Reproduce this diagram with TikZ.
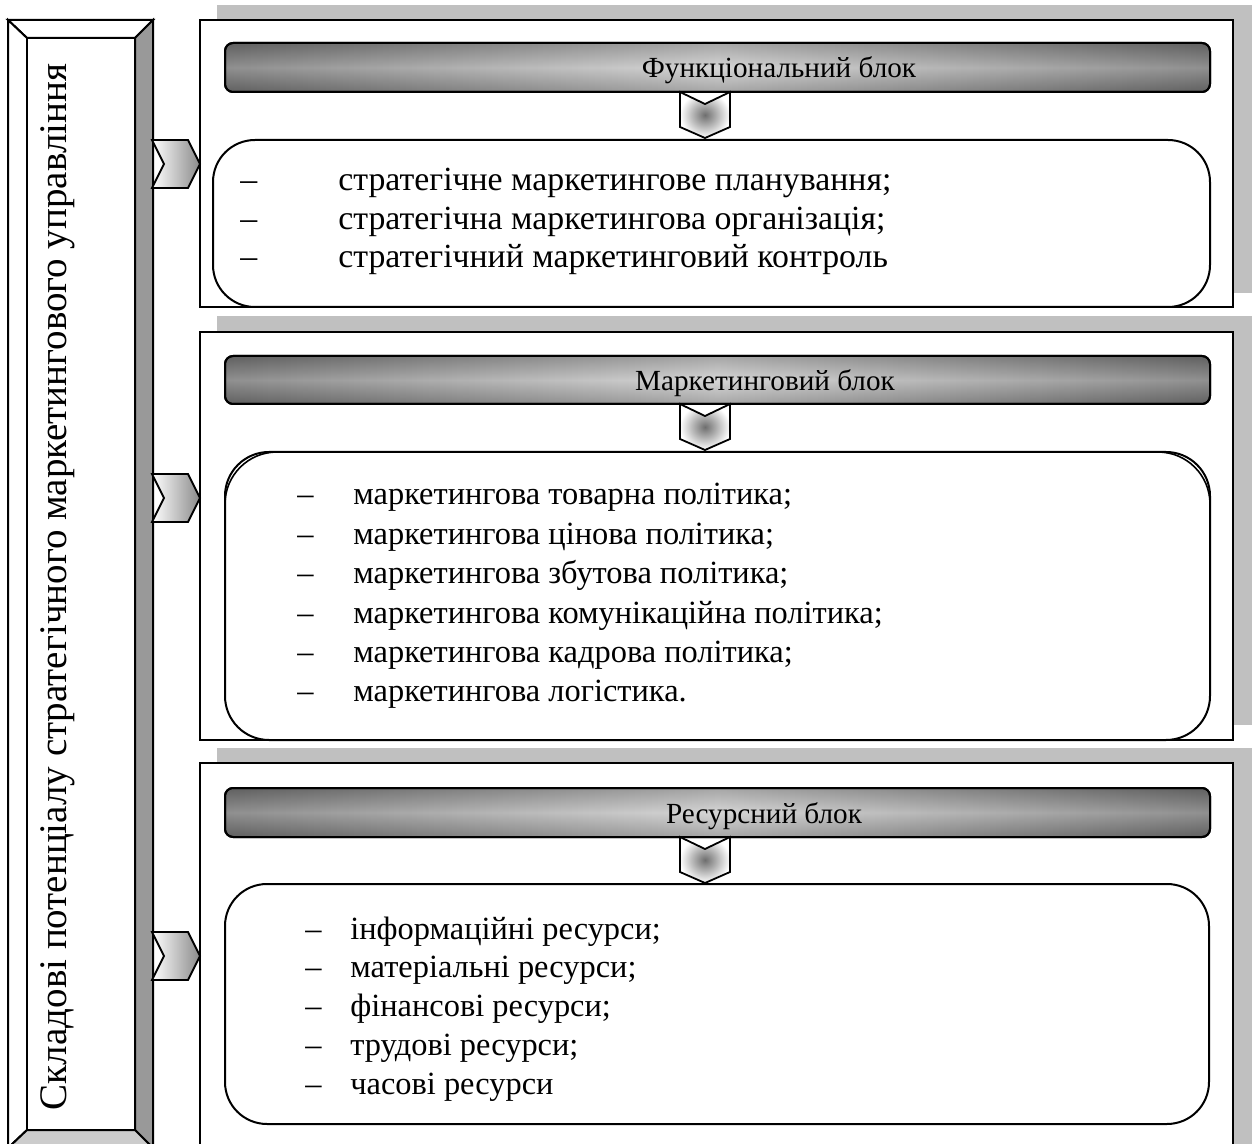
\documentclass[tikz,border=0pt]{standalone}
\usepackage{fontspec}
\setmainfont{Liberation Serif}
\definecolor{shadowgray}{HTML}{C0C0C0}
\definecolor{hdark}{HTML}{777777}
\definecolor{hlight}{HTML}{CDCDCD}
\definecolor{bevelright}{HTML}{999999}
\definecolor{bevelbottom}{HTML}{CCCCCC}
\definecolor{chevgray}{HTML}{8A8A8A}
\definecolor{chevdark}{HTML}{6E6E6E}
\newcommand{\dsh}[2]{\makebox[#1][l]{–}#2}
\begin{document}
\begin{tikzpicture}[x=0.5pt,y=-0.5pt,
  shadowbox/.style={fill=shadowgray,draw=none},
  panel/.style={draw=black,line width=1pt,fill=white},
  header/.style={draw=black,line width=1pt,rounded corners=4pt,left color=hdark,right color=hdark,middle color=hlight},
  headgloss/.style={rounded corners=4pt,top color=black,bottom color=black,middle color=white,fill opacity=0.18},
  innerbox/.style={draw=black,line width=1pt,fill=white},
  rchev/.style={draw=black,line width=0.9pt,left color=white,right color=chevgray},
  dchev/.style={draw=black,line width=0.9pt,inner color=chevdark,outer color=white},
  bevel/.style={draw=black,line width=1pt,line join=miter},
  itemtext/.style={font=\fontsize{16.2}{19}\selectfont,inner sep=0pt,anchor=base west},
  itemtexta/.style={font=\fontsize{16.9}{19}\selectfont,inner sep=0pt,anchor=base west},
  headtext/.style={font=\fontsize{14.6}{18}\selectfont,inner sep=0pt,anchor=base},
  vtext/.style={font=\fontsize{19.5}{23}\selectfont,inner sep=0pt,anchor=base,rotate=90}
]
\useasboundingbox (0,0) rectangle (1254,1144);
\clip (0,0) rectangle (1254,1144);
\fill[white] (0,0) rectangle (1254,1144);

% ---------- left bevelled box ----------
\coordinate (otl) at (8,20);   \coordinate (otr) at (153,20);
\coordinate (obl) at (8,1148); \coordinate (obr) at (153,1148);
\coordinate (itl) at (27,38);  \coordinate (itr) at (135,38);
\coordinate (ibl) at (27,1130);\coordinate (ibr) at (135,1130);
\filldraw[bevel,fill=white] (otl) -- (otr) -- (itr) -- (itl) -- cycle;
\filldraw[bevel,fill=white] (otl) -- (itl) -- (ibl) -- (obl) -- cycle;
\filldraw[bevel,fill=bevelright] (otr) -- (obr) -- (ibr) -- (itr) -- cycle;
\filldraw[bevel,fill=bevelbottom] (obl) -- (obr) -- (ibr) -- (ibl) -- cycle;
\filldraw[bevel,fill=white] (itl) rectangle (ibr);
\node[vtext] (title) at (66,587) {Складові потенціалу стратегічного маркетингового управління};

% ---------- shadows ----------
\fill[shadowbox] (217,5) rectangle (1252,293);
\fill[shadowbox] (217,316) rectangle (1252,725);
\fill[shadowbox] (217,748) rectangle (1252,1150);

% ---------- panels ----------
\filldraw[panel] (200,20) rectangle (1233,307);
\filldraw[panel] (200,332) rectangle (1233,740);
\filldraw[panel] (200,763) rectangle (1233,1160);

% ---------- headers ----------
\shade[header] (225,43) rectangle (1210,92);
\shade[headgloss] (226,44) rectangle (1209,91);
\draw[line width=1pt,rounded corners=4pt] (225,43) rectangle (1210,92);
\shade[header] (225,356) rectangle (1210,404);
\shade[headgloss] (226,357) rectangle (1209,403);
\draw[line width=1pt,rounded corners=4pt] (225,356) rectangle (1210,404);
\shade[header] (225,788) rectangle (1210,837);
\shade[headgloss] (226,789) rectangle (1209,836);
\draw[line width=1pt,rounded corners=4pt] (225,788) rectangle (1210,837);
\node[headtext] (h1) at (779,78) {Функціональний блок};
\node[headtext] (h2) at (765,391) {Маркетинговий блок};
\node[headtext] (h3) at (764,823) {Ресурсний блок};

% ---------- down chevrons ----------
\shade[dchev] (680,92) -- (705,104) -- (730,92) -- (730,127) -- (705,138) -- (680,127) -- cycle;
\shade[dchev] (680,404) -- (705,416) -- (730,404) -- (730,439) -- (705,450) -- (680,439) -- cycle;
\shade[dchev] (680,837) -- (705,849) -- (730,837) -- (730,872) -- (705,883) -- (680,872) -- cycle;

% ---------- inner rounded boxes ----------
\filldraw[innerbox,rounded corners=21pt] (213,140) rectangle (1210,307);
\filldraw[innerbox,rounded corners=22pt] (225,452) rectangle (1210,740);
\draw[line width=0.8pt,rounded corners=26pt] (225,620) -- (225,452) -- (1210,452) -- (1210,620);
\filldraw[innerbox,rounded corners=21pt] (225,884) rectangle (1209,1124);

% ---------- right chevrons ----------
\shade[rchev] (152,140) -- (188,140) -- (200,164) -- (188,188) -- (152,188) -- (164,164) -- cycle;
\shade[rchev] (152,474) -- (188,474) -- (200,498) -- (188,522) -- (152,522) -- (164,498) -- cycle;
\shade[rchev] (152,932) -- (188,932) -- (200,956) -- (188,980) -- (152,980) -- (164,956) -- cycle;

% ---------- list texts ----------
\node[itemtexta] (a1) at (240,191)   {\dsh{49pt}{стратегічне маркетингове планування;}};
\node[itemtexta] (a2) at (240,229.5) {\dsh{49pt}{стратегічна маркетингова організація;}};
\node[itemtexta] (a3) at (240,268)   {\dsh{49pt}{стратегічний маркетинговий контроль}};

\node[itemtext] (b1) at (297,505)   {\dsh{28pt}{маркетингова товарна політика;}};
\node[itemtext] (b2) at (297,544.4) {\dsh{28pt}{маркетингова цінова політика;}};
\node[itemtext] (b3) at (297,583.8) {\dsh{28pt}{маркетингова збутова політика;}};
\node[itemtext] (b4) at (297,623.2) {\dsh{28pt}{маркетингова комунікаційна політика;}};
\node[itemtext] (b5) at (297,662.6) {\dsh{28pt}{маркетингова кадрова політика;}};
\node[itemtext] (b6) at (297,702)   {\dsh{28pt}{маркетингова логістика.}};

\node[itemtext] (c1) at (305,939)     {\dsh{22.5pt}{інформаційні ресурси;}};
\node[itemtext] (c2) at (305,977.75)  {\dsh{22.5pt}{матеріальні ресурси;}};
\node[itemtext] (c3) at (305,1016.5)  {\dsh{22.5pt}{фінансові ресурси;}};
\node[itemtext] (c4) at (305,1055.25) {\dsh{22.5pt}{трудові ресурси;}};
\node[itemtext] (c5) at (305,1094)    {\dsh{22.5pt}{часові ресурси}};
\end{tikzpicture}
\end{document}
